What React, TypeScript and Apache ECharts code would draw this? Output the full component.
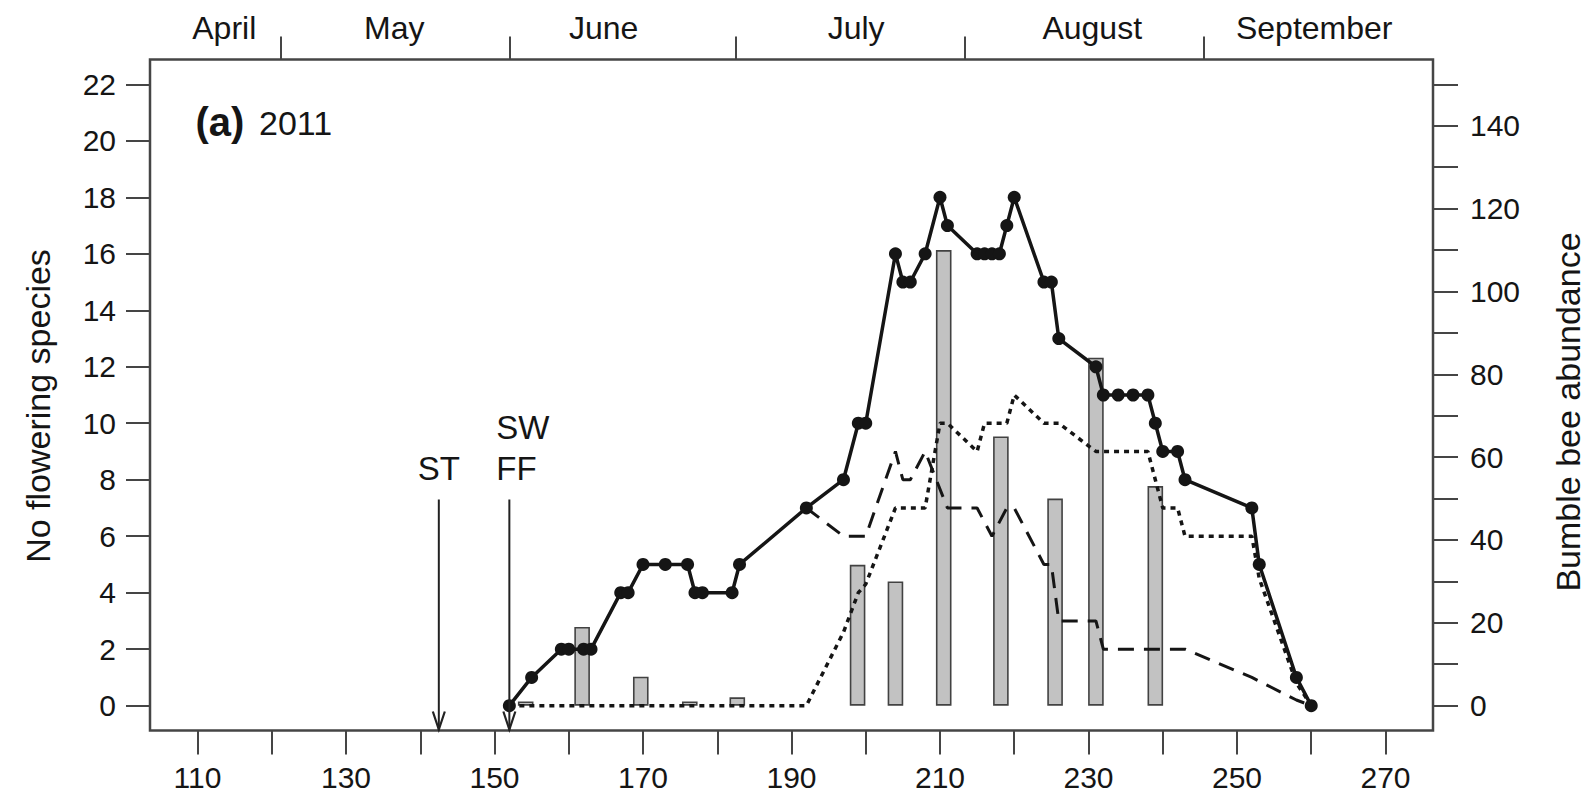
import React, { useEffect, useRef } from 'react';
import * as echarts from 'echarts';

// ---- data (day of year) ----
const solidDays = [152, 155, 159, 160, 162, 163, 167, 168, 170, 173, 176, 177, 178, 182, 183, 192, 197, 199, 200, 204, 205, 206, 208, 210, 211, 215, 216, 217, 218, 219, 220, 224, 225, 226, 231, 232, 234, 236, 238, 239, 240, 242, 243, 252, 253, 258, 260];
const solidValues = [0, 1, 2, 2, 2, 2, 4, 4, 5, 5, 5, 4, 4, 4, 5, 7, 8, 10, 10, 16, 15, 15, 16, 18, 17, 16, 16, 16, 16, 17, 18, 15, 15, 13, 12, 11, 11, 11, 11, 10, 9, 9, 8, 7, 5, 1, 0];

const dottedDays = [152, 192, 197, 199, 200, 204, 208, 210, 211, 215, 216, 219, 220, 224, 226, 231, 238, 239, 240, 242, 243, 252, 253, 258, 260];
const dottedValues = [0, 0, 2.6, 4, 4.3, 7, 7, 10, 10, 9, 10, 10, 11, 10, 10, 9, 9, 8, 7, 7, 6, 6, 4.5, 0.8, 0];

const dashedDays = [192, 197, 200, 204, 205, 206, 208, 211, 215, 217, 219, 220, 224, 225, 226, 231, 232, 243, 252, 258, 260];
const dashedValues = [7, 6, 6, 9, 8, 8, 9, 7, 7, 6, 7, 7, 5, 5, 3, 3, 2, 2, 1, 0.2, 0];

const barDays = [154.2, 161.8, 169.7, 176.3, 182.7, 198.9, 204, 210.5, 218.2, 225.5, 231, 239];
const barValues = [1, 19, 7, 1, 2, 34, 30, 110, 65, 50, 84, 53];

// ---- axes ----
const xTicks = [110, 120, 130, 140, 150, 160, 170, 180, 190, 200, 210, 220, 230, 240, 250, 260, 270];
const xLabels = [110, 130, 150, 170, 190, 210, 230, 250, 270];
const leftTicks = [0, 2, 4, 6, 8, 10, 12, 14, 16, 18, 20, 22];
const rightTicks = [0, 10, 20, 30, 40, 50, 60, 70, 80, 90, 100, 110, 120, 130, 140, 150];
const rightLabels = [0, 20, 40, 60, 80, 100, 120, 140];

const monthNames = ['April', 'May', 'June', 'July', 'August', 'September'];
const monthLabelDays = [113.6, 136.5, 164.7, 198.7, 230.5, 260.4];
const monthBoundaries = [121.2, 152, 182.5, 213.4, 245.5];

// ---- annotations ----
const arrowDays = [142.5, 152];
const arrowTop = 7.3;
const annTexts = ['ST', 'SW', 'FF'];
const annDays = [142.5, 152, 152];
const annValues = [8.4, 9.85, 8.38];

const X_MIN = 103.6;
const X_MAX = 276.4;
const YL_MIN = -0.88;
const YL_MAX = 22.88;
const YR_MIN = -6;
const YR_MAX = 156;

export default function App() {
  const ref = useRef<HTMLDivElement>(null);

  useEffect(() => {
    document.body.style.margin = '0';
    const chart = echarts.init(ref.current as HTMLDivElement, null, { renderer: 'svg' });
    const FONT = "'Liberation Sans', Arial, Helvetica, sans-serif";
    const ink = '#151515';
    const axisGray = '#454545';
    const zip = (xs: number[], ys: number[]) => xs.map((x, i) => [x, ys[i]]);

    const tickStyle = { color: axisGray, width: 2 };

    const option: any = {
      animation: false,
      backgroundColor: '#ffffff',
      textStyle: { fontFamily: FONT },
      grid: {
        left: 150,
        right: 160,
        top: 59.5,
        bottom: 62.5,
        show: true,
        borderColor: axisGray,
        borderWidth: 2.5,
        backgroundColor: 'transparent',
      },
      xAxis: [
        {
          type: 'value',
          position: 'bottom',
          min: X_MIN,
          max: X_MAX,
          axisLine: { show: false, onZero: false },
          splitLine: { show: false },
          axisTick: { show: true, inside: false, length: 24, customValues: xTicks, lineStyle: tickStyle },
          axisLabel: { customValues: xLabels, margin: 32, fontSize: 30, color: ink, fontFamily: FONT },
        },
        {
          type: 'value',
          position: 'top',
          min: X_MIN,
          max: X_MAX,
          axisLine: { show: false, onZero: false },
          splitLine: { show: false },
          axisTick: { show: true, inside: false, length: 23, customValues: monthBoundaries, lineStyle: tickStyle },
          axisLabel: {
            customValues: monthLabelDays,
            margin: 16,
            fontSize: 32,
            color: ink,
            fontFamily: FONT,
            formatter: (v: number) => {
              const i = monthLabelDays.findIndex((d) => Math.abs(d - v) < 0.01);
              return i >= 0 ? monthNames[i] : '';
            },
          },
        },
      ],
      yAxis: [
        {
          type: 'value',
          position: 'left',
          min: YL_MIN,
          max: YL_MAX,
          axisLine: { show: false, onZero: false },
          splitLine: { show: false },
          axisTick: { show: true, inside: false, length: 24, customValues: leftTicks, lineStyle: tickStyle },
          axisLabel: { customValues: leftTicks, margin: 34, fontSize: 30, color: ink, fontFamily: FONT },
        },
        {
          type: 'value',
          position: 'right',
          min: YR_MIN,
          max: YR_MAX,
          axisLine: { show: false, onZero: false },
          splitLine: { show: false },
          axisTick: { show: true, inside: false, length: 25, customValues: rightTicks, lineStyle: tickStyle },
          axisLabel: { customValues: rightLabels, margin: 37, fontSize: 30, color: ink, fontFamily: FONT },
        },
      ],
      graphic: [
        {
          type: 'text',
          x: 38,
          y: 406,
          rotation: Math.PI / 2,
          style: {
            text: 'No flowering species',
            fontSize: 34,
            fontFamily: FONT,
            fill: ink,
            align: 'center',
            verticalAlign: 'middle',
            textAlign: 'center',
            textVerticalAlign: 'middle',
          },
        },
        {
          type: 'text',
          x: 1568,
          y: 412,
          rotation: Math.PI / 2,
          style: {
            text: 'Bumble bee abundance',
            fontSize: 34,
            fontFamily: FONT,
            fill: ink,
            align: 'center',
            verticalAlign: 'middle',
            textAlign: 'center',
            textVerticalAlign: 'middle',
          },
        },
        {
          type: 'text',
          x: 195.5,
          y: 122,
          style: {
            text: '(a)',
            fontSize: 40,
            fontWeight: 'bold',
            fontFamily: FONT,
            fill: ink,
            align: 'left',
            verticalAlign: 'middle',
            textAlign: 'left',
            textVerticalAlign: 'middle',
          },
        },
        {
          type: 'text',
          x: 259,
          y: 123,
          style: {
            text: '2011',
            fontSize: 34,
            fontFamily: FONT,
            fill: ink,
            align: 'left',
            verticalAlign: 'middle',
            textAlign: 'left',
            textVerticalAlign: 'middle',
          },
        },
      ],
      series: [
        {
          name: 'Bumble bees',
          type: 'bar',
          xAxisIndex: 0,
          yAxisIndex: 1,
          data: zip(barDays, barValues),
          barWidth: 15.6,
          itemStyle: { color: '#c2c2c2', borderColor: '#424242', borderWidth: 1.6 },
          z: 1,
          silent: true,
        },
        {
          name: 'dotted',
          type: 'line',
          xAxisIndex: 0,
          yAxisIndex: 0,
          data: zip(dottedDays, dottedValues),
          symbol: 'none',
          lineStyle: { color: ink, width: 3.5, type: [5, 5] },
          z: 2,
          silent: true,
        },
        {
          name: 'dashed',
          type: 'line',
          xAxisIndex: 0,
          yAxisIndex: 0,
          data: zip(dashedDays, dashedValues),
          symbol: 'none',
          lineStyle: { color: ink, width: 3, type: [16, 10] },
          z: 3,
          silent: true,
        },
        {
          name: 'No flowering species',
          type: 'line',
          xAxisIndex: 0,
          yAxisIndex: 0,
          data: zip(solidDays, solidValues),
          symbol: 'circle',
          symbolSize: 13,
          showAllSymbol: true,
          itemStyle: { color: ink },
          lineStyle: { color: ink, width: 3.5 },
          z: 4,
          silent: true,
        },
        {
          name: 'arrows',
          type: 'custom',
          xAxisIndex: 0,
          yAxisIndex: 0,
          data: arrowDays.map((d) => [d, arrowTop]),
          clip: false,
          silent: true,
          z: 5,
          renderItem: (params: any, api: any) => {
            const top = api.coord([api.value(0), api.value(1)]);
            const bot = api.coord([api.value(0), YL_MIN]);
            return {
              type: 'group',
              children: [
                {
                  type: 'line',
                  shape: { x1: top[0], y1: top[1], x2: bot[0], y2: bot[1] },
                  style: { stroke: '#222', lineWidth: 2, fill: null },
                },
                {
                  type: 'polyline',
                  shape: { points: [[bot[0] - 6, bot[1] - 19], [bot[0], bot[1] - 1], [bot[0] + 6, bot[1] - 19]] },
                  style: { stroke: '#222', lineWidth: 2.2, fill: null },
                },
              ],
            };
          },
        },
        {
          name: 'labels',
          type: 'custom',
          xAxisIndex: 0,
          yAxisIndex: 0,
          data: annDays.map((d, i) => [d, annValues[i], i]),
          clip: false,
          silent: true,
          z: 5,
          renderItem: (params: any, api: any) => {
            const i = api.value(2);
            const pt = api.coord([api.value(0), api.value(1)]);
            const al = i === 0 ? 'center' : 'left';
            return {
              type: 'text',
              x: pt[0] + (i === 0 ? 0 : -13),
              y: pt[1],
              style: {
                text: annTexts[i],
                fontSize: 33,
                fontFamily: FONT,
                fill: ink,
                align: al,
                verticalAlign: 'middle',
                textAlign: al,
                textVerticalAlign: 'middle',
              },
            };
          },
        },
      ],
    };

    chart.setOption(option);
    return () => chart.dispose();
  }, []);

  return <div ref={ref} style={{ width: 1593, height: 793 }} />;
}
